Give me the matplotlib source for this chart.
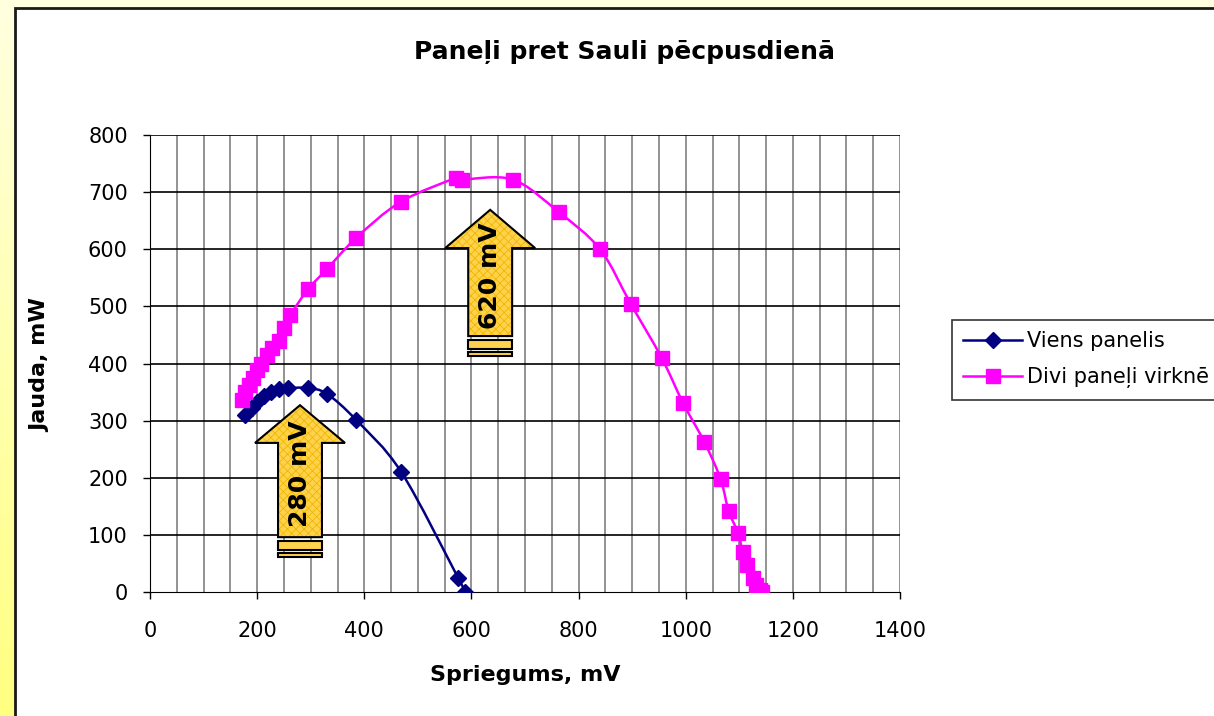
import numpy as np
import matplotlib
matplotlib.use('Agg')
import matplotlib.pyplot as plt
from matplotlib.path import Path
from matplotlib.patches import PathPatch, Polygon, Rectangle

plt.rcParams['font.family'] = ['DejaVu Sans']
plt.rcParams['hatch.linewidth'] = 0.6

# dati
viens_mv = [177, 190, 200, 212, 226, 240, 258, 295, 330, 385, 469, 575, 588]
viens_mw = [310, 322, 333, 343, 350, 355, 357, 357, 347, 301, 210, 25, 0]

divi_mv = [172, 178, 185, 192, 200, 208, 218, 228, 240, 250, 262, 295, 330, 385, 468,
           572, 582, 677, 763, 840, 897, 955, 995, 1035, 1065, 1080, 1098, 1106, 1114,
           1125, 1131, 1139, 1142]
divi_mw = [336, 350, 362, 375, 388, 400, 415, 428, 440, 462, 485, 530, 565, 620, 683,
           725, 722, 722, 665, 600, 505, 410, 331, 262, 198, 142, 103, 70, 47,
           25, 12, 4, 0]

x_ticks = [0, 200, 400, 600, 800, 1000, 1200, 1400]
y_ticks = [0, 100, 200, 300, 400, 500, 600, 700, 800]

title = 'Paneļi pret Sauli pēcpusdienā'
x_label = 'Spriegums, mV'
y_label = 'Jauda, mW'
labels = ['Viens panelis', 'Divi paneļi virknē']

# bultas: (centrs mV, virsotne, galvas apakša, stieņa apakša, teksts)
arrows = [(280, 327, 261, 96, '280 mV'), (635, 669, 602, 448, '620 mV')]


def smooth_path(xs, ys):
    # Catmull-Rom -> Bezier, kā Excel gludinātā līnija
    p = np.column_stack([xs, ys]).astype(float)
    p_ext = np.vstack([p[0], p, p[-1]])
    verts = [p[0]]
    codes = [Path.MOVETO]
    for i in range(1, len(p_ext) - 2):
        p0, p1, p2, p3 = p_ext[i - 1], p_ext[i], p_ext[i + 1], p_ext[i + 2]
        c1 = p1 + (p2 - p0) / 6.0
        c2 = p2 - (p3 - p1) / 6.0
        verts += [c1, c2, p2]
        codes += [Path.CURVE4] * 3
    return Path(verts, codes)


fig = plt.figure(figsize=(12.14, 7.16), dpi=100)

# dzeltenais fons ar gradientu
bg = fig.add_axes([0, 0, 1, 1], zorder=-10)
grad = np.linspace(0, 1, 256).reshape(-1, 1)
cmap = matplotlib.colors.LinearSegmentedColormap.from_list('y', ['#FFFFE0', '#FFFF80'])
bg.imshow(grad, aspect='auto', cmap=cmap, extent=[0, 1, 0, 1], origin='upper')
bg.set_xlim(0, 1)
bg.set_ylim(0, 1)
bg.axis('off')
bg.add_patch(Rectangle((15 / 1214, -0.1), 1.2, 1 - 8 / 716 + 0.1, facecolor='white',
                       edgecolor='#1a1a1a', linewidth=2))

ax = fig.add_axes([150 / 1214, 124 / 716, 750 / 1214, 457 / 716])
ax.set_xlim(0, 1400)
ax.set_ylim(0, 800)
ax.set_facecolor('none')

for v in range(50, 1401, 50):
    ax.axvline(v, color='#808080', linewidth=1.2, zorder=1)
for v in y_ticks[1:]:
    ax.axhline(v, color='black', linewidth=1.2, zorder=1)

ax.set_xticks(x_ticks)
ax.set_yticks(y_ticks)
ax.tick_params(direction='out', length=5, width=1, labelsize=15)
ax.tick_params(axis='x', pad=16)
ax.tick_params(axis='y', pad=11)
for s in ['top', 'right']:
    ax.spines[s].set_visible(False)
ax.spines['left'].set_color('black')
ax.spines['bottom'].set_color('black')

fig.text(624 / 1214, 1 - 52 / 716, title, fontsize=18, fontweight='bold', ha='center', va='center')
fig.text(525 / 1214, 1 - 675 / 716, x_label, fontsize=16, fontweight='bold', ha='center', va='center')
fig.text(40 / 1214, 1 - 365 / 716, y_label, fontsize=16, fontweight='bold', ha='center', va='center',
         rotation=90)

# līnijas
ax.add_patch(PathPatch(smooth_path(viens_mv, viens_mw), facecolor='none', edgecolor='#000080',
                       linewidth=1.8, zorder=3))
ax.plot(viens_mv, viens_mw, linestyle='none', marker='D', markersize=8.5, color='#000080', zorder=4)
ax.add_patch(PathPatch(smooth_path(divi_mv, divi_mw), facecolor='none', edgecolor='#FF00FF',
                       linewidth=1.8, zorder=3))
ax.plot(divi_mv, divi_mw, linestyle='none', marker='s', markersize=10.5, color='#FF00FF', zorder=4)

# bultas
for cx, tip, head, bottom, txt in arrows:
    hw = 84
    bw = 41
    pts = [(cx, tip), (cx + hw, head), (cx + bw, head), (cx + bw, bottom),
           (cx - bw, bottom), (cx - bw, head), (cx - hw, head)]
    ax.add_patch(Polygon(pts, closed=True, facecolor='#FFD24D', edgecolor='#F0B800',
                         hatch='xxxx', linewidth=0, zorder=5))
    ax.add_patch(Polygon(pts, closed=True, facecolor='none', edgecolor='black', linewidth=1.5, zorder=6))
    for y0, h in [(bottom - 23, 17), (bottom - 34, 7)]:
        ax.add_patch(Rectangle((cx - bw, y0), 2 * bw, h, facecolor='#FFD24D', edgecolor='black',
                               linewidth=1.5, zorder=6))
    ax.text(cx, (bottom + head) / 2 + 28, txt, rotation=90, ha='center', va='center',
            fontsize=18, fontweight='bold', zorder=7)

h1, = ax.plot([], [], color='#000080', marker='D', markersize=8.5, linewidth=1.8)
h2, = ax.plot([], [], color='#FF00FF', marker='s', markersize=10.5, linewidth=1.8)
leg = ax.legend([h1, h2], labels, loc='upper left', bbox_to_anchor=(952 / 1214, 1 - 320 / 716),
                bbox_transform=fig.transFigure, fontsize=15, frameon=True, fancybox=False,
                handlelength=2.8, handletextpad=0.25, labelspacing=0.75, borderpad=0.55,
                borderaxespad=0)
leg.get_frame().set_edgecolor('black')
leg.get_frame().set_linewidth(1.2)

fig.savefig('out.png', dpi=100)
